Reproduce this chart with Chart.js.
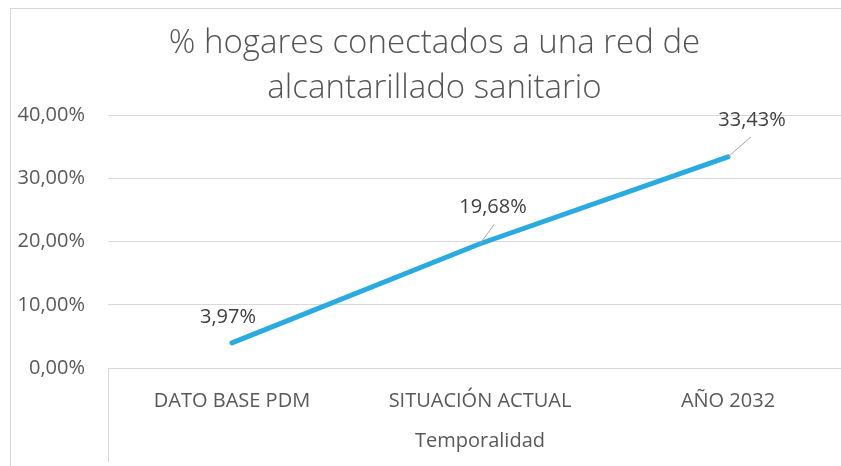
<!DOCTYPE html>
<html lang="es">
<head>
    <meta charset="UTF-8">
    <title>% hogares conectados a una red de alcantarillado sanitario</title>
    <script src="https://cdn.jsdelivr.net/npm/chart.js"></script>
    <style>
        html, body {
            margin: 0;
            padding: 0;
            background: #ffffff;
            overflow: hidden;
            width: 841px;
            height: 466px;
        }
        #wrap {
            position: absolute;
            left: 10px;
            top: 8px;
            width: 854px;
            height: 470px;
            border: 1px solid #d9d9d9;
            background: #ffffff;
        }
        canvas {
            display: block;
        }
    </style>
</head>
<body>
    <div id="wrap">
        <canvas id="chart" width="854" height="470"></canvas>
    </div>

    <script>
        // chart data
        const categories = ["DATO BASE PDM", "SITUACIÓN ACTUAL", "AÑO 2032"];
        const values = [3.97, 19.68, 33.43];
        const yTicks = [0, 10, 20, 30, 40];
        const xTitle = "Temporalidad";

        const textColor = "#595959";
        const gridColor = "#d9d9d9";
        const fmt = v => v.toFixed(2).replace(".", ",") + "%";

        // label offsets from each point (dx, dy) and whether a leader line is drawn
        const labelOffsets = [
            { dx: -4, dy: -26, leader: false },
            { dx: 13, dy: -36, leader: true },
            { dx: 24, dy: -37, leader: true }
        ];

        const extras = {
            id: "extras",
            afterDraw(chart) {
                const ctx = chart.ctx;
                const area = chart.chartArea;
                ctx.save();
                // category-axis group separator on the left
                ctx.strokeStyle = gridColor;
                ctx.lineWidth = 1;
                ctx.beginPath();
                ctx.moveTo(Math.round(area.left) + 0.5, area.bottom);
                ctx.lineTo(Math.round(area.left) + 0.5, area.bottom + 94);
                ctx.stroke();

                // axis title under the category labels
                ctx.font = "20px 'Open Sans'";
                ctx.fillStyle = textColor;
                ctx.textAlign = "center";
                ctx.textBaseline = "middle";
                ctx.fillText(xTitle, (area.left + area.right) / 2, area.bottom + 73);

                // data labels
                const meta = chart.getDatasetMeta(0);
                ctx.fillStyle = "#404040";
                meta.data.forEach((pt, i) => {
                    const o = labelOffsets[i];
                    const lx = pt.x + o.dx, ly = pt.y + o.dy;
                    if (o.leader) {
                        ctx.strokeStyle = "#a6a6a6";
                        ctx.lineWidth = 1;
                        ctx.beginPath();
                        ctx.moveTo(lx + (o.dx > 20 ? -1 : 1), ly + 17);
                        ctx.lineTo(pt.x, pt.y);
                        ctx.stroke();
                    }
                    ctx.fillText(fmt(values[i]), lx, ly);
                });
                ctx.restore();
            }
        };

        new Chart(document.getElementById("chart"), {
            type: "line",
            data: {
                labels: categories,
                datasets: [{
                    data: values,
                    borderColor: "#29abe2",
                    borderWidth: 5,
                    borderCapStyle: "round",
                    pointRadius: 0,
                    tension: 0,
                    fill: false
                }]
            },
            options: {
                responsive: false,
                animation: false,
                layout: { padding: { left: 6, right: 13, top: 0, bottom: 0 } },
                plugins: {
                    legend: { display: false },
                    tooltip: { enabled: false },
                    title: {
                        display: true,
                        text: ["% hogares conectados a una red de", "alcantarillado sanitario"],
                        color: "#555555",
                        font: { family: "'Open Sans'", size: 33, weight: 300, lineHeight: 1.37 },
                        padding: { top: 12, bottom: 4 }
                    }
                },
                scales: {
                    x: {
                        offset: true,
                        grid: { display: false },
                        border: { display: false },
                        afterFit: axis => { axis.height = 111; },
                        ticks: {
                            color: textColor,
                            font: { family: "'Open Sans'", size: 20 },
                            padding: 13,
                            maxRotation: 0
                        }
                    },
                    y: {
                        min: 0,
                        max: 40,
                        afterBuildTicks: axis => { axis.ticks = yTicks.map(v => ({ value: v })); },
                        afterFit: axis => { axis.width = 91; },
                        grid: { color: gridColor, lineWidth: 1, drawTicks: false },
                        border: { display: false },
                        ticks: {
                            color: textColor,
                            font: { family: "'Open Sans'", size: 20 },
                            padding: 23,
                            callback: v => fmt(v)
                        }
                    }
                }
            },
            plugins: [extras]
        });
    </script>
</body>
</html>
